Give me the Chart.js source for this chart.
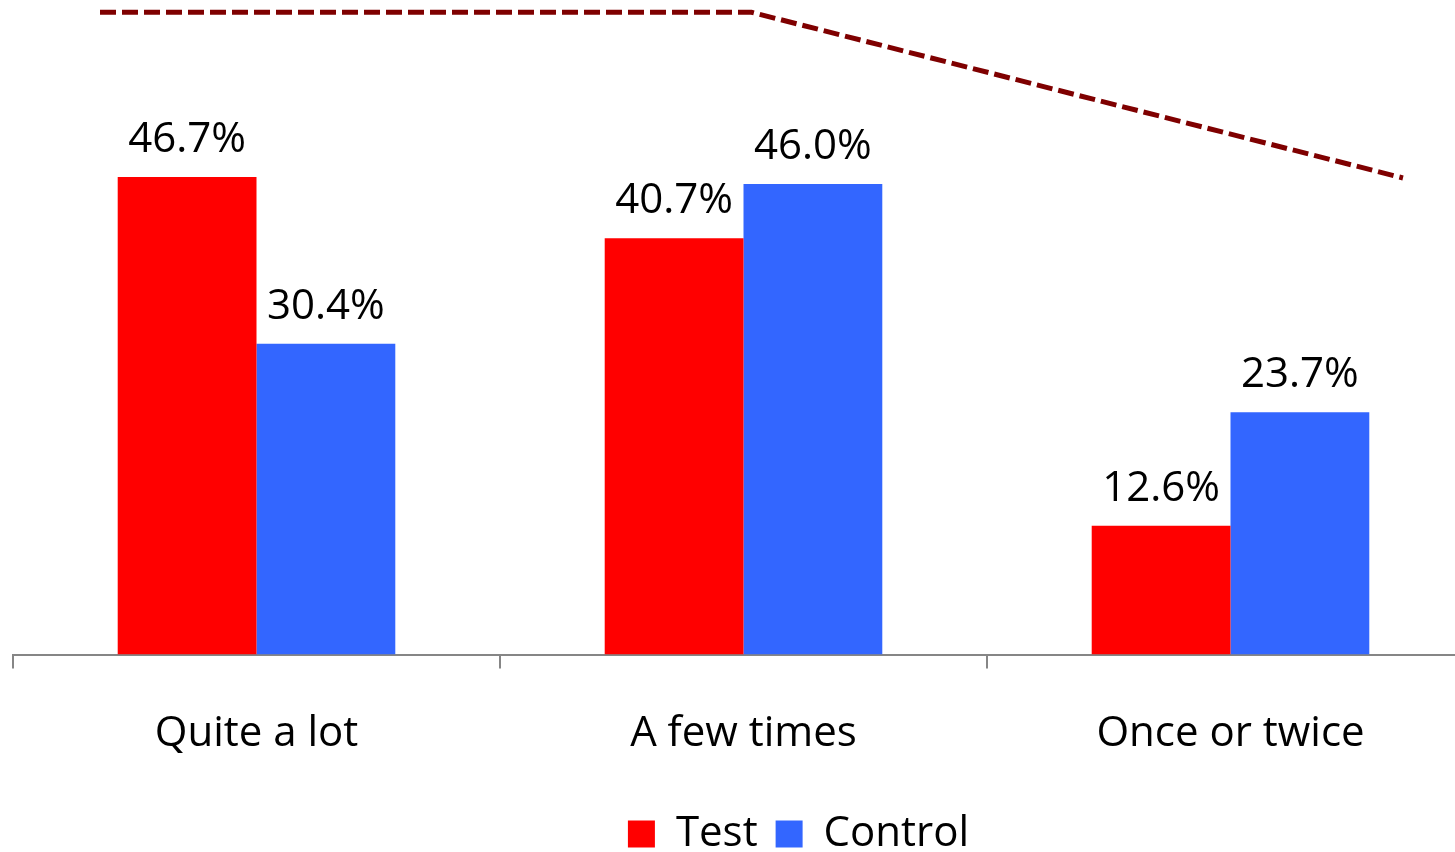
<!DOCTYPE html>
<html>
<head>
<meta charset="utf-8">
<script src="https://cdn.jsdelivr.net/npm/chart.js@4.4.1/dist/chart.umd.min.js"></script>
<style>
  html, body { margin: 0; padding: 0; background: #fff; overflow: hidden; }
  /* el gráfico original está recortado por la derecha */
  #wrap { width: 1474px; height: 852px; }
</style>
</head>
<body>
<div id="wrap"><canvas id="chart"></canvas></div>
<script>
// Datos del gráfico
const categories = ['Quite a lot', 'A few times', 'Once or twice'];
const testValues = [46.7, 40.7, 12.6];
const controlValues = [30.4, 46.0, 23.7];
const trendValues = [62.8, 62.8, 46.6];

const ctx = document.getElementById('chart').getContext('2d');

// Etiquetas de valor encima de cada barra
const barLabels = {
    id: 'barLabels',
    afterDatasetsDraw(chart) {
        const c = chart.ctx;
        c.save();
        c.font = '42px "Open Sans"';
        c.fillStyle = '#000';
        c.textAlign = 'center';
        c.textBaseline = 'alphabetic';
        chart.data.datasets.forEach((ds, i) => {
            if (ds.type === 'line') return;
            chart.getDatasetMeta(i).data.forEach((bar, j) => {
                c.fillText(ds.data[j].toFixed(1) + '%', bar.x, bar.y - 25);
            });
        });
        c.restore();
    }
};

// Mover la leyenda un poco a la derecha y abajo, como en el original
const legendShift = {
    id: 'legendShift',
    beforeDraw(chart) {
        const lg = chart.legend;
        lg.left += 55; lg.right += 55;
        lg.top += 13; lg.bottom += 13;
    }
};

new Chart(ctx, {
    type: 'bar',
    data: {
        labels: categories,
        datasets: [{
            label: 'Test',
            data: testValues,
            backgroundColor: '#FF0000',
            categoryPercentage: 0.57,
            barPercentage: 1.0
        }, {
            label: 'Control',
            data: controlValues,
            backgroundColor: '#3366FF',
            categoryPercentage: 0.57,
            barPercentage: 1.0
        }, {
            type: 'line',
            label: 'Trend',
            data: trendValues.map((v, i) => ({ x: i, y: v })),
            xAxisID: 'x2',
            borderColor: '#7F0000',
            borderWidth: 5,
            borderDash: [16, 6],
            pointRadius: 0,
            fill: false,
            tension: 0
        }]
    },
    options: {
        responsive: true,
        maintainAspectRatio: false,
        animation: false,
        // indexAxis 'y' a nivel de gráfico solo para que la línea en x2
        // no divida el ancho de las barras; cada tipo usa 'x'
        indexAxis: 'y',
        datasets: {
            bar: { indexAxis: 'x' },
            line: { indexAxis: 'x' }
        },
        layout: { padding: { left: 13, right: 0, top: 0, bottom: 0 } },
        plugins: {
            legend: {
                position: 'bottom',
                labels: {
                    font: { family: 'Open Sans', size: 42 },
                    color: '#000',
                    boxWidth: 27,
                    boxHeight: 27,
                    padding: 18,
                    filter: (item) => item.text !== 'Trend'
                }
            },
            tooltip: { enabled: false }
        },
        scales: {
            x: {
                type: 'category',
                offset: true,
                grid: {
                    offset: true,
                    drawOnChartArea: false,
                    tickLength: 14,
                    color: '#868686',
                    lineWidth: 2
                },
                border: { color: '#868686', width: 2 },
                ticks: {
                    font: { family: 'Open Sans', size: 42 },
                    color: '#000',
                    padding: 40
                },
                afterFit: (scale) => { scale.height -= 17; }
            },
            x2: {
                type: 'linear',
                display: false,
                offset: false,
                min: -0.1335,
                max: 2.109
            },
            y: {
                type: 'linear',
                display: false,
                min: 0,
                max: 64
            }
        }
    },
    plugins: [barLabels, legendShift]
});
</script>
</body>
</html>
